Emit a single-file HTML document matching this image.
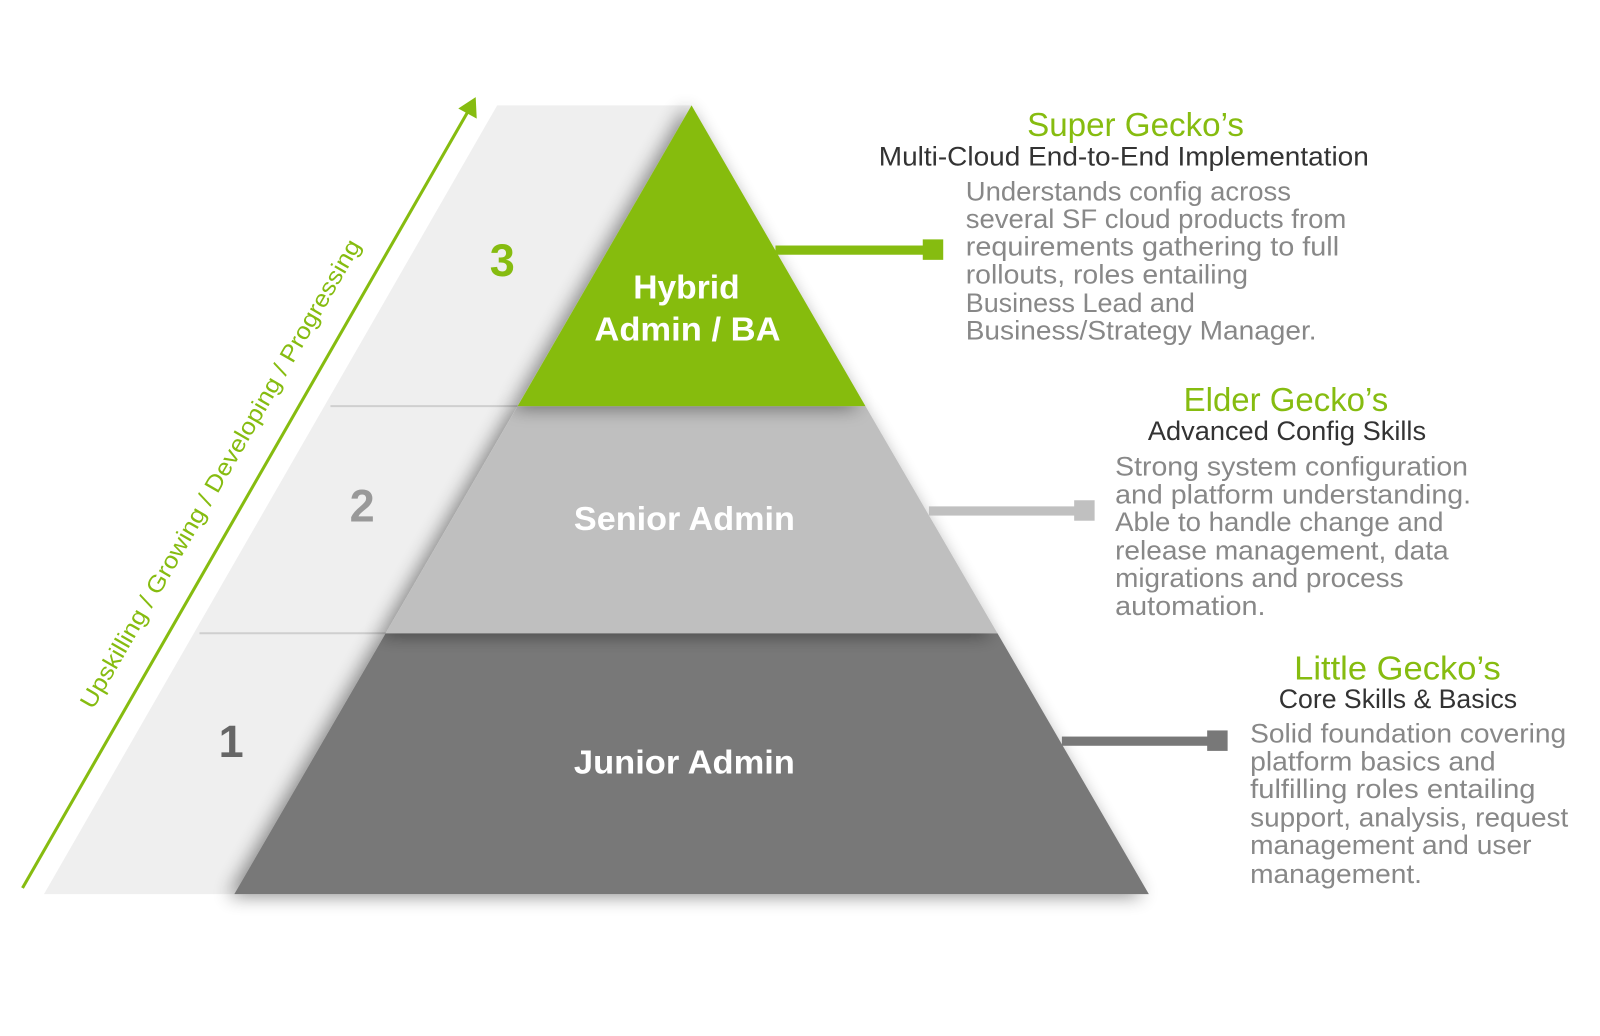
<!DOCTYPE html>
<html><head><meta charset="utf-8"><style>
html,body{margin:0;padding:0;background:#fff;}
svg{display:block;}
text{font-family:"Liberation Sans",sans-serif;}
</style></head><body>
<svg width="1600" height="1036" viewBox="0 0 1564 1012.7" preserveAspectRatio="none" xmlns="http://www.w3.org/2000/svg">
<defs>
<filter id="sh" x="-20%" y="-20%" width="140%" height="140%">
<feGaussianBlur in="SourceAlpha" stdDeviation="9"/>
<feOffset dx="-6" dy="2"/>
<feComponentTransfer><feFuncA type="linear" slope="0.45"/></feComponentTransfer>
<feMerge><feMergeNode/><feMergeNode in="SourceGraphic"/></feMerge>
</filter>
</defs>
<polygon points="486,103 676,103 229,874 43,874" fill="#efefef"/>
<line x1="323" y1="397" x2="506" y2="397" stroke="#cfcfcf" stroke-width="2"/>
<line x1="195" y1="619" x2="377" y2="619" stroke="#cfcfcf" stroke-width="2"/>
<polygon points="377,619 975,619 1123,874 229,874" fill="#787878" filter="url(#sh)"/>
<polygon points="506,397 846,397 975,619 377,619" fill="#bfbfbf" filter="url(#sh)"/>
<polygon points="676,103 846,397 506,397" fill="#86bc10" filter="url(#sh)"/>
<rect x="758" y="240" width="146" height="9" fill="#86bc10"/>
<rect x="902" y="234" width="20" height="20" fill="#86bc10"/>
<rect x="908" y="495" width="144" height="9" fill="#c0c0c0"/>
<rect x="1050" y="489" width="20" height="20" fill="#c0c0c0"/>
<rect x="1038" y="720" width="144" height="9" fill="#787878"/>
<rect x="1180" y="714" width="20" height="20" fill="#787878"/>
<line x1="22" y1="868" x2="458" y2="108" stroke="#86bc10" stroke-width="3"/>
<polygon points="465,95 466,116 448,106" fill="#86bc10"/>
<text x="0" y="0" transform="translate(222,467) rotate(-60)" text-anchor="middle" font-size="23" fill="#86bc10" textLength="525" lengthAdjust="spacingAndGlyphs">Upskilling / Growing / Developing / Progressing</text>
<text x="491" y="270" text-anchor="middle" font-size="44" font-weight="bold" fill="#86bc10">3</text>
<text x="354" y="510" text-anchor="middle" font-size="44" font-weight="bold" fill="#999">2</text>
<text x="226" y="740" text-anchor="middle" font-size="44" font-weight="bold" fill="#666">1</text>
<g font-weight="bold" fill="#fff" font-size="33" text-anchor="middle">
<text x="671" y="292" textLength="104" lengthAdjust="spacingAndGlyphs">Hybrid</text>
<text x="672" y="333" textLength="182" lengthAdjust="spacingAndGlyphs">Admin / BA</text>
<text x="669" y="518" textLength="216" lengthAdjust="spacingAndGlyphs">Senior Admin</text>
<text x="669" y="756" textLength="216" lengthAdjust="spacingAndGlyphs">Junior Admin</text>
</g>
<text x="1110" y="133" text-anchor="middle" font-size="33" fill="#86bc10" textLength="212" lengthAdjust="spacingAndGlyphs">Super Gecko’s</text>
<text x="859" y="162" font-size="26" fill="#333" textLength="479" lengthAdjust="spacingAndGlyphs">Multi-Cloud End-to-End Implementation</text>
<g font-size="26" fill="#888">
<text x="944" y="196" textLength="318" lengthAdjust="spacingAndGlyphs">Understands config across</text>
<text x="944" y="223" textLength="372" lengthAdjust="spacingAndGlyphs">several SF cloud products from</text>
<text x="944" y="250" textLength="365" lengthAdjust="spacingAndGlyphs">requirements gathering to full</text>
<text x="944" y="277" textLength="276" lengthAdjust="spacingAndGlyphs">rollouts, roles entailing</text>
<text x="944" y="305" textLength="224" lengthAdjust="spacingAndGlyphs">Business Lead and</text>
<text x="944" y="332" textLength="343" lengthAdjust="spacingAndGlyphs">Business/Strategy Manager.</text>
</g>
<text x="1257" y="402" text-anchor="middle" font-size="33" fill="#86bc10" textLength="200" lengthAdjust="spacingAndGlyphs">Elder Gecko’s</text>
<text x="1122" y="430" font-size="26" fill="#333" textLength="272" lengthAdjust="spacingAndGlyphs">Advanced Config Skills</text>
<g font-size="26" fill="#888">
<text x="1090" y="465" textLength="345" lengthAdjust="spacingAndGlyphs">Strong system configuration</text>
<text x="1090" y="492" textLength="348" lengthAdjust="spacingAndGlyphs">and platform understanding.</text>
<text x="1090" y="519" textLength="321" lengthAdjust="spacingAndGlyphs">Able to handle change and</text>
<text x="1090" y="547" textLength="326" lengthAdjust="spacingAndGlyphs">release management, data</text>
<text x="1090" y="574" textLength="282" lengthAdjust="spacingAndGlyphs">migrations and process</text>
<text x="1090" y="601" textLength="147" lengthAdjust="spacingAndGlyphs">automation.</text>
</g>
<text x="1366" y="664" text-anchor="middle" font-size="33" fill="#86bc10" textLength="202" lengthAdjust="spacingAndGlyphs">Little Gecko’s</text>
<text x="1250" y="692" font-size="26" fill="#333" textLength="233" lengthAdjust="spacingAndGlyphs">Core Skills &amp; Basics</text>
<g font-size="26" fill="#888">
<text x="1222" y="726" textLength="309" lengthAdjust="spacingAndGlyphs">Solid foundation covering</text>
<text x="1222" y="753" textLength="240" lengthAdjust="spacingAndGlyphs">platform basics and</text>
<text x="1222" y="780" textLength="279" lengthAdjust="spacingAndGlyphs">fulfilling roles entailing</text>
<text x="1222" y="808" textLength="311" lengthAdjust="spacingAndGlyphs">support, analysis, request</text>
<text x="1222" y="835" textLength="275" lengthAdjust="spacingAndGlyphs">management and user</text>
<text x="1222" y="863" textLength="168" lengthAdjust="spacingAndGlyphs">management.</text>
</g>
</svg>
</body></html>
